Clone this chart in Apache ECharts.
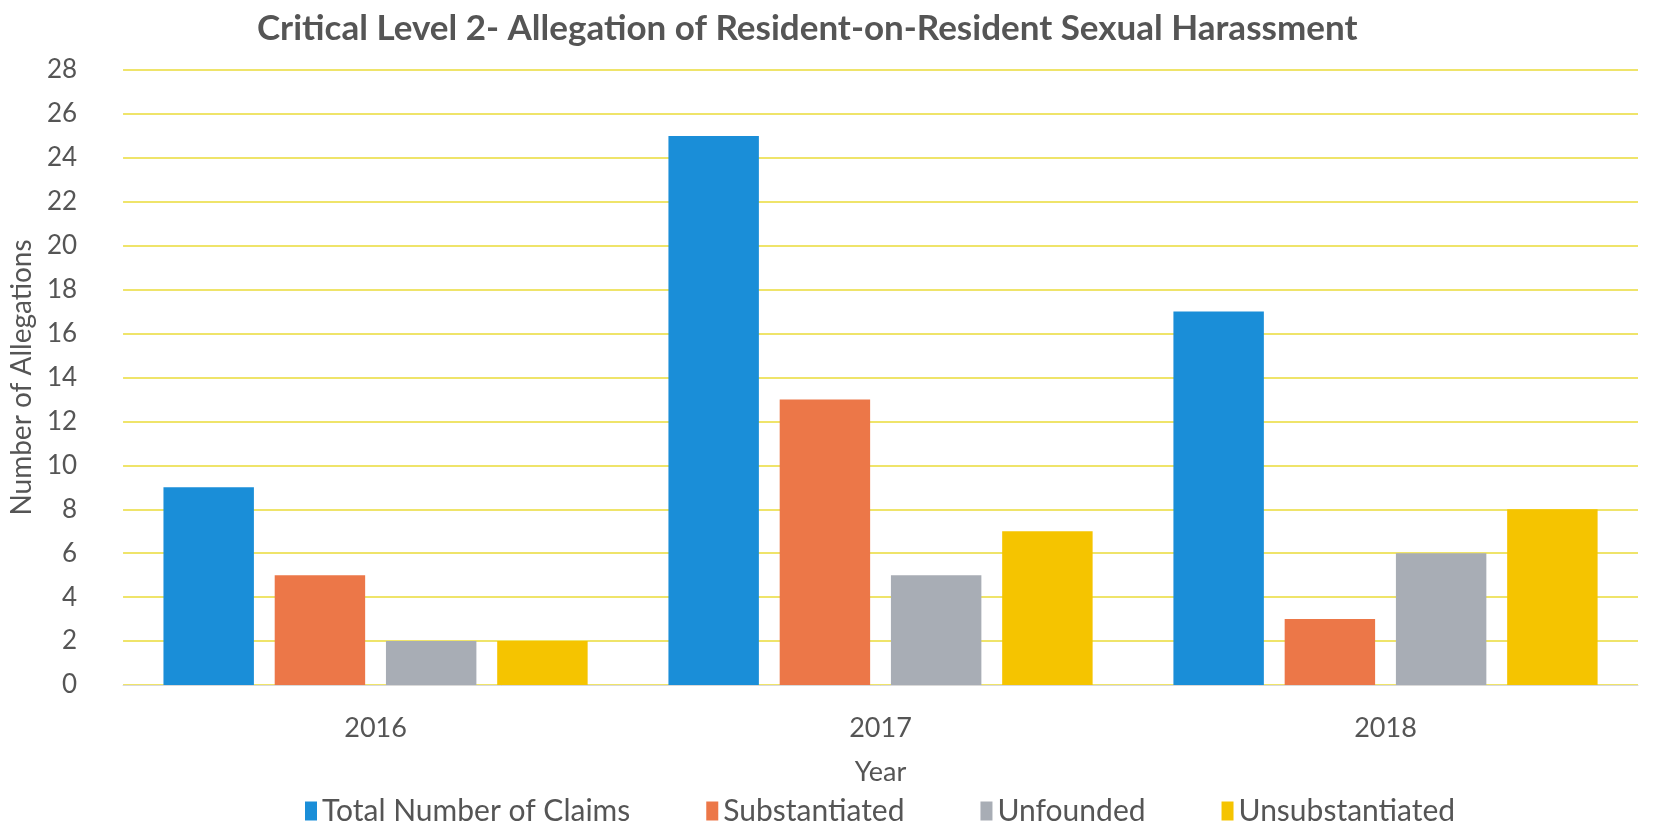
<!DOCTYPE html>
<html>
<head>
<meta charset="utf-8">
<script src="https://cdn.jsdelivr.net/npm/echarts@6/dist/echarts.min.js"></script>
<style>
  html, body { margin: 0; padding: 0; background: #fff; }
  #chart { width: 1654px; height: 833px; }
</style>
</head>
<body>
<div id="chart"></div>
<script>
// data
const years = ['2016', '2017', '2018']
const totalClaims = [9, 25, 17]
const substantiated = [5, 13, 3]
const unfounded = [2, 5, 6]
const unsubstantiated = [2, 7, 8]

const font = 'Lato, "Open Sans", sans-serif'
const textColor = '#555555'

const chart = echarts.init(document.getElementById('chart'))

const makeBar = (name, data, color) => ({
  name,
  type: 'bar',
  data,
  barGap: '23%',
  barCategoryGap: '16%',
  itemStyle: { color }
})

chart.setOption({
  animation: false,
  title: {
    text: 'Critical Level 2- Allegation of Resident-on-Resident Sexual Harassment',
    left: 252,
    top: 6,
    textStyle: { fontFamily: font, fontSize: 35, fontWeight: 'bold', color: textColor }
  },
  legend: {
    bottom: 2,
    left: 300,
    itemWidth: 12,
    itemHeight: 19,
    itemGap: 76,
    icon: 'rect',
    textStyle: { fontFamily: font, fontSize: 30, color: textColor }
  },
  grid: {
    left: 114,
    right: 16,
    top: 70,
    bottom: 148
  },
  xAxis: {
    type: 'category',
    data: years,
    name: 'Year',
    nameLocation: 'middle',
    nameGap: 74,
    nameTextStyle: { fontFamily: font, fontSize: 27, color: textColor },
    axisLine: { lineStyle: { color: '#d9d9d9' } },
    axisTick: { show: false },
    axisLabel: { margin: 30, fontFamily: font, fontSize: 27, color: textColor }
  },
  yAxis: {
    type: 'value',
    min: 0,
    max: 28,
    interval: 2,
    name: 'Number of Allegations',
    nameLocation: 'middle',
    nameGap: 62,
    nameTextStyle: { fontFamily: font, fontSize: 28, color: textColor },
    axisLabel: { margin: 46, fontFamily: font, fontSize: 26, color: textColor },
    splitLine: { lineStyle: { color: '#efe46a', width: 2 } }
  },
  series: [
    makeBar('Total Number of Claims', totalClaims, '#1a8ed8'),
    makeBar('Substantiated', substantiated, '#ec7748'),
    makeBar('Unfounded', unfounded, '#a8adb5'),
    makeBar('Unsubstantiated', unsubstantiated, '#f5c400')
  ]
})
</script>
</body>
</html>
